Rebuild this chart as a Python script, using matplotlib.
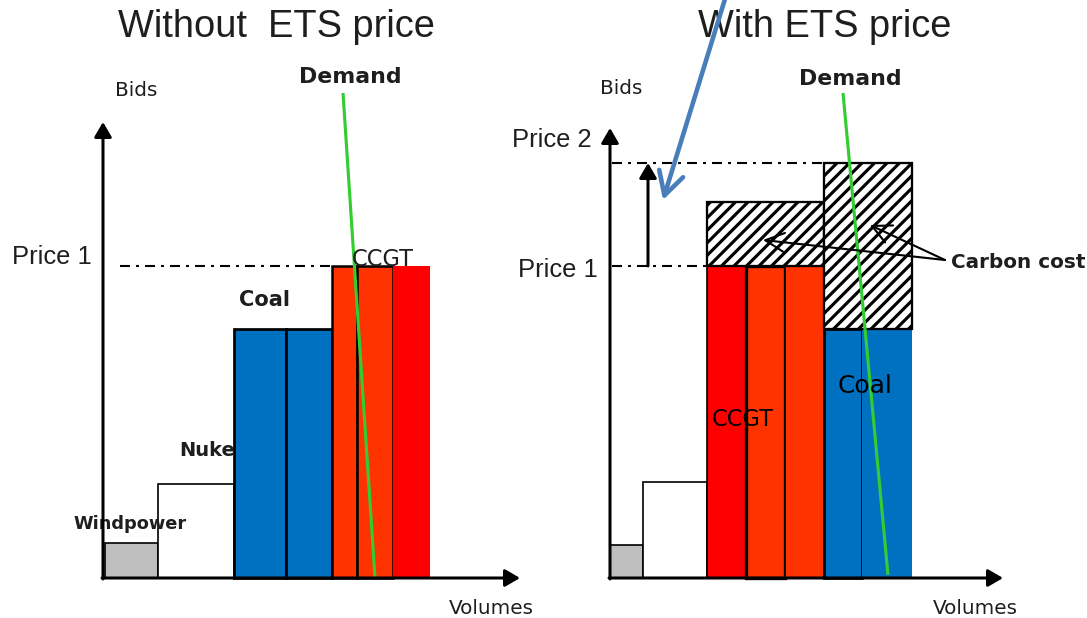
import numpy as np
import matplotlib
matplotlib.use("Agg")
import matplotlib.pyplot as plt

plt.rcParams["hatch.linewidth"] = 1.5

DPI = 150
W_PX, H_PX = 1087, 618

# ---- merit-order data (volume units and bid units are schematic) ----
left_units = ["Windpower", "Nuke", "Coal", "Coal", "CCGT", "CCGT", "CCGT"]
left_widths = [53, 76, 52, 46, 25, 36, 37]
left_bids = [35, 94, 249, 249, 312, 312, 312]

right_units = ["Windpower", "Nuke", "CCGT", "CCGT", "CCGT", "Coal", "Coal"]
right_widths = [33, 64, 39, 39, 39, 38, 50]
right_bids = [33, 96, 312, 312, 312, 249, 249]
right_carbon = [0, 0, 64, 64, 64, 166, 166]

price_1 = 312
price_2 = 415

left_demand = [(240, 485), (272, 0)]
right_demand = [(233, 485), (278, 3)]

left_colors = ["#BFBFBF", "white", "#0070C0", "#0070C0", "#FF3300", "#FF3300", "#FF0000"]
left_edges = ["black", "black", "black", "black", "black", "black", "none"]
left_lw = [0.8, 0.8, 1.3, 1.3, 1.2, 1.2, 0]

right_colors = ["#BFBFBF", "white", "#FF0000", "#FF3300", "#FF3300", "#0070C0", "#0070C0"]
right_edges = ["black", "black", "black", "black", "black", "black", "none"]
right_lw = [0.8, 0.8, 0.8, 1.6, 0.8, 1.3, 0]

TXT = "#1E1E1E"
GREEN = "#33CC33"
ARROW_BLUE = "#4A7EBB"


def px(v):
    """pixel size -> points at the figure dpi"""
    return v * 72.0 / DPI


fig = plt.figure(figsize=(W_PX / DPI, H_PX / DPI), dpi=DPI)
fig.patch.set_facecolor("white")

# each panel: 1 data unit == 1 pixel, origin at the axes corner
ax_l = fig.add_axes([0, 0, 545 / W_PX, 1])
ax_l.set_xlim(-103, 442)
ax_l.set_ylim(-40, 578)
ax_r = fig.add_axes([545 / W_PX, 0, 542 / W_PX, 1])
ax_r.set_xlim(-65, 477)
ax_r.set_ylim(-40, 578)
for ax in (ax_l, ax_r):
    ax.axis("off")


def axis_arrow(ax, xy, xytext, lw=1.45, z=6):
    ax.annotate("", xy=xy, xytext=xytext,
                arrowprops=dict(arrowstyle="-|>,head_length=0.6,head_width=0.35",
                                mutation_scale=10, lw=lw, color="black",
                                shrinkA=0, shrinkB=0),
                zorder=z)


def draw_stack(ax, widths, bids, colors, edges, lws, x0):
    widths = np.asarray(widths, float)
    starts = x0 + np.concatenate([[0], np.cumsum(widths)[:-1]])
    ax.bar(starts, bids, width=widths, align="edge", color=colors,
           edgecolor=edges, linewidth=lws, zorder=2)
    return starts


dash = (0, (4.8, 2.9, 1.4, 2.9))

# ================= left panel: without ETS price =================
l_starts = draw_stack(ax_l, left_widths, left_bids, left_colors, left_edges, left_lw, 2)

ax_l.plot([17, l_starts[4]], [price_1, price_1], color="black", lw=1.0,
          linestyle=dash, zorder=1)
ax_l.plot([p[0] for p in left_demand], [p[1] for p in left_demand],
          color=GREEN, lw=1.5, zorder=4, solid_capstyle="butt")

axis_arrow(ax_l, (0, 456), (0, -1))
axis_arrow(ax_l, (417, 0), (-1, 0))

ax_l.text(173, 551, "Without  ETS price", fontsize=px(38), color=TXT,
          family="Liberation Sans", ha="center", va="center")
ax_l.text(12, 488, "Bids", fontsize=px(20), color=TXT, ha="left", va="center")
ax_l.text(-11, 321, "Price 1", fontsize=px(25.5), color=TXT,
          family="Liberation Sans", ha="right", va="center")
ax_l.text(388, -30, "Volumes", fontsize=px(20), color=TXT, ha="center", va="center")
ax_l.text(left_demand[0][0] + 7, left_demand[0][1] + 16, "Demand", fontsize=px(22),
          fontweight="bold", color=TXT, ha="center", va="center")
ax_l.text(162, 278, "Coal", fontsize=px(21), fontweight="bold", color=TXT,
          ha="center", va="center")
ax_l.text(104, 127, "Nuke", fontsize=px(19.5), fontweight="bold", color=TXT,
          ha="center", va="center")
ax_l.text(27, 54, "Windpower", fontsize=px(17.8), fontweight="bold", color=TXT,
          ha="center", va="center", zorder=5)
ax_l.text(280, 319, "CCGT", fontsize=px(22.5), color=TXT, ha="center",
          va="center", zorder=5)

# ================= right panel: with ETS price =================
r_starts = draw_stack(ax_r, right_widths, right_bids, right_colors, right_edges, right_lw, 0)
r_units = np.array(right_units)
r_ends = r_starts + np.asarray(right_widths, float)
r_bids = np.asarray(right_bids, float)
r_carbon = np.asarray(right_carbon, float)

# carbon cost blocks stacked on each fuel group
for fuel in ["CCGT", "Coal"]:
    m = r_units == fuel
    gx0, gx1 = r_starts[m].min(), r_ends[m].max()
    ax_r.bar(gx0, r_carbon[m].max(), width=gx1 - gx0, bottom=r_bids[m].max(),
             align="edge", facecolor="white", edgecolor="black", hatch="////",
             linewidth=1.1, zorder=2)

ccgt_start = r_starts[r_units == "CCGT"].min()
coal_start = r_starts[r_units == "Coal"].min()
ax_r.plot([2, coal_start], [price_2, price_2], color="black", lw=1.0,
          linestyle=dash, zorder=1)
ax_r.plot([2, ccgt_start], [price_1, price_1], color="black", lw=1.0,
          linestyle=dash, zorder=1)

axis_arrow(ax_r, (38, price_2), (38, price_1))
axis_arrow(ax_r, (0, 450), (0, -1))
axis_arrow(ax_r, (393, 0), (-1, 0))

ax_r.plot([p[0] for p in right_demand], [p[1] for p in right_demand],
          color=GREEN, lw=1.5, zorder=4, solid_capstyle="butt")

# pointers from the carbon cost label
for tip in [(153, 338), (260, 353)]:
    ax_r.annotate("", xy=tip, xytext=(335, 318),
                  arrowprops=dict(arrowstyle="->,head_length=0.9,head_width=0.45",
                                  mutation_scale=10, lw=1.0, color="black",
                                  shrinkA=0, shrinkB=0),
                  zorder=5)

ax_r.text(215, 551, "With ETS price", fontsize=px(38), color=TXT,
          family="Liberation Sans", ha="center", va="center")
ax_r.text(-10, 489, "Bids", fontsize=px(20), color=TXT, ha="left", va="center")
ax_r.text(-18, 438, "Price 2", fontsize=px(25.5), color=TXT,
          family="Liberation Sans", ha="right", va="center")
ax_r.text(-12, 308, "Price 1", fontsize=px(25.5), color=TXT,
          family="Liberation Sans", ha="right", va="center")
ax_r.text(365, -30, "Volumes", fontsize=px(20), color=TXT, ha="center", va="center")
ax_r.text(right_demand[0][0] + 7, right_demand[0][1] + 14, "Demand", fontsize=px(22),
          fontweight="bold", color=TXT, ha="center", va="center")
ax_r.text(341, 316, "Carbon cost", fontsize=px(20), fontweight="bold", color=TXT,
          ha="left", va="center")
ax_r.text(133, 158, "CCGT", fontsize=px(22.5), color="black", ha="center",
          va="center", zorder=5)
ax_r.text(255, 192, "Coal", fontsize=px(25), color="black", ha="center",
          va="center", zorder=5)

# callout arrow entering from the top
ax_r.annotate("", xy=(53, 378), xytext=(119, 592),
              arrowprops=dict(arrowstyle="->,head_length=1.1,head_width=0.6",
                              mutation_scale=10, lw=2.2, color=ARROW_BLUE,
                              shrinkA=0, shrinkB=0),
              annotation_clip=False, zorder=7)

fig.savefig("out.png", dpi=DPI, facecolor="white")
